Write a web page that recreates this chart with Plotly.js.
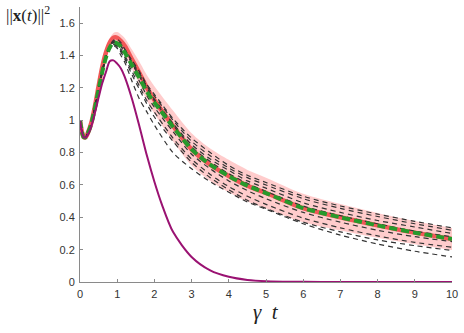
<!DOCTYPE html>
<html>
<head>
<meta charset="utf-8">
<script src="https://cdn.plot.ly/plotly-3.0.1.min.js"></script>
<style>
  html, body { margin: 0; padding: 0; background: #fff; }
  #chart { width: 464px; height: 333px; }
</style>
</head>
<body>
<div id="chart"></div>
<script>
// time grid (gamma t)
const T = [0, 0.05, 0.1, 0.15, 0.2, 0.3, 0.4, 0.5, 0.6, 0.7, 0.8, 0.9, 1.0, 1.1,
           1.2, 1.4, 1.6, 1.8, 2.0, 2.5, 3.0, 3.5, 4.0, 4.5, 5.0, 6.0, 7.0, 8.0, 9.0, 10];

// ensemble mean (red) and its spread (pink band)
const meanRed = [1.0, 0.93, 0.895, 0.895, 0.915, 0.98, 1.085, 1.21, 1.33, 1.42, 1.48, 1.51, 1.51, 1.49,
                 1.46, 1.375, 1.29, 1.20, 1.125, 0.965, 0.82, 0.725, 0.655, 0.595, 0.55, 0.457, 0.40, 0.35, 0.305, 0.266];
const spread  = [0, 0.005, 0.008, 0.01, 0.01, 0.012, 0.015, 0.018, 0.02, 0.025, 0.028, 0.03, 0.035, 0.04,
                 0.048, 0.06, 0.07, 0.078, 0.085, 0.095, 0.1, 0.1, 0.1, 0.098, 0.095, 0.088, 0.082, 0.077, 0.072, 0.068];

// reduced model (green dashed)
const green = [1.0, 0.93, 0.895, 0.895, 0.915, 0.975, 1.075, 1.19, 1.30, 1.39, 1.45, 1.48, 1.475, 1.455,
               1.42, 1.34, 1.26, 1.175, 1.11, 0.96, 0.82, 0.725, 0.655, 0.595, 0.55, 0.457, 0.40, 0.35, 0.305, 0.266];

// individual realisations (black dashed)
const runs = [
  [1.0, 0.93, 0.895, 0.895, 0.915, 0.975, 1.08, 1.20, 1.31, 1.40, 1.46, 1.495, 1.50, 1.48,
   1.44, 1.37, 1.30, 1.22, 1.16, 1.01, 0.89, 0.80, 0.72, 0.66, 0.615, 0.53, 0.47, 0.42, 0.375, 0.335],
  [1.0, 0.93, 0.895, 0.895, 0.915, 0.975, 1.08, 1.20, 1.31, 1.40, 1.46, 1.49, 1.49, 1.47,
   1.44, 1.36, 1.29, 1.21, 1.15, 1.00, 0.87, 0.78, 0.705, 0.645, 0.60, 0.515, 0.455, 0.405, 0.36, 0.32],
  [1.0, 0.93, 0.895, 0.895, 0.915, 0.975, 1.075, 1.19, 1.30, 1.39, 1.45, 1.485, 1.48, 1.46,
   1.43, 1.35, 1.28, 1.20, 1.13, 0.98, 0.85, 0.76, 0.69, 0.625, 0.58, 0.49, 0.43, 0.38, 0.34, 0.30],
  [1.0, 0.93, 0.895, 0.895, 0.915, 0.975, 1.075, 1.19, 1.30, 1.39, 1.45, 1.48, 1.475, 1.455,
   1.42, 1.345, 1.27, 1.19, 1.12, 0.97, 0.835, 0.745, 0.67, 0.61, 0.56, 0.47, 0.41, 0.36, 0.315, 0.28],
  [1.0, 0.93, 0.895, 0.895, 0.915, 0.975, 1.075, 1.19, 1.30, 1.39, 1.445, 1.47, 1.465, 1.44,
   1.40, 1.32, 1.24, 1.15, 1.08, 0.93, 0.79, 0.70, 0.625, 0.565, 0.515, 0.43, 0.37, 0.32, 0.28, 0.25],
  [1.0, 0.93, 0.895, 0.895, 0.915, 0.975, 1.075, 1.19, 1.30, 1.39, 1.445, 1.47, 1.46, 1.43,
   1.39, 1.30, 1.21, 1.12, 1.05, 0.89, 0.76, 0.665, 0.59, 0.53, 0.48, 0.395, 0.335, 0.285, 0.245, 0.215],
  [1.0, 0.93, 0.895, 0.895, 0.915, 0.975, 1.075, 1.19, 1.30, 1.39, 1.44, 1.465, 1.455, 1.42,
   1.38, 1.28, 1.19, 1.10, 1.02, 0.87, 0.74, 0.645, 0.57, 0.505, 0.455, 0.37, 0.31, 0.26, 0.225, 0.195],
  [1.0, 0.93, 0.895, 0.895, 0.915, 0.975, 1.075, 1.19, 1.30, 1.385, 1.44, 1.46, 1.445, 1.40,
   1.36, 1.24, 1.13, 1.05, 0.97, 0.80, 0.70, 0.62, 0.555, 0.495, 0.45, 0.36, 0.29, 0.235, 0.19, 0.155],
];

// linearised model (purple)
const tPurple = [0, 0.05, 0.1, 0.15, 0.2, 0.3, 0.4, 0.5, 0.6, 0.7, 0.8, 0.9, 1.0, 1.1, 1.2, 1.4, 1.6,
                 1.8, 2.0, 2.2, 2.5, 3.0, 3.5, 4.0, 4.5, 5.0, 6.0, 7.0, 8.0, 9.0, 10];
const purple  = [1.0, 0.93, 0.895, 0.893, 0.905, 0.96, 1.045, 1.14, 1.23, 1.30, 1.365, 1.37, 1.35, 1.32,
                 1.27, 1.13, 0.96, 0.78, 0.62, 0.48, 0.31, 0.155, 0.072, 0.032, 0.013, 0.005, 0.001, 0, 0, 0, 0];

const yTicks = [0, 0.2, 0.4, 0.6, 0.8, 1, 1.2, 1.4, 1.6];
const xTicks = [0, 1, 2, 3, 4, 5, 6, 7, 8, 9, 10];

const bandLo = meanRed.map((m, i) => m - spread[i]);
const bandHi = meanRed.map((m, i) => m + spread[i]);

const SPL = { shape: 'spline', smoothing: 0.8 };

const traces = [
  { x: T, y: bandLo, type: 'scatter', mode: 'lines', line: { width: 0, ...SPL }, hoverinfo: 'skip' },
  { x: T, y: bandHi, type: 'scatter', mode: 'lines', line: { width: 0, ...SPL },
    fill: 'tonexty', fillcolor: 'rgba(255,195,195,0.85)', hoverinfo: 'skip' },
  { x: T, y: meanRed, type: 'scatter', mode: 'lines', line: { color: '#f25858', width: 4.5, ...SPL } },
  ...runs.map(r => ({
    x: T, y: r, type: 'scatter', mode: 'lines',
    line: { color: '#333', width: 1.2, dash: '5px,4px', ...SPL },
  })),
  { x: T, y: green, type: 'scatter', mode: 'lines', line: { color: '#279a2c', width: 4, dash: '8px,4px', ...SPL } },
  { x: tPurple, y: purple, type: 'scatter', mode: 'lines', line: { color: '#9a1272', width: 2, ...SPL } },
];

const AX = {
  showgrid: false, zeroline: false, showline: true, linecolor: '#8a8a8a', linewidth: 1,
  ticks: 'inside', ticklen: 3, tickcolor: '#8a8a8a',
  tickfont: { family: 'Liberation Sans, Arial, sans-serif', size: 11, color: '#333' },
};

const layout = {
  width: 464, height: 333,
  margin: { l: 80, r: 12, t: 7, b: 51 },
  paper_bgcolor: '#fff', plot_bgcolor: '#fff',
  showlegend: false,
  xaxis: { ...AX, range: [0, 10], tickvals: xTicks, ticklabelstandoff: 2 },
  yaxis: { ...AX, range: [0, 1.7], tickvals: yTicks, ticklabelstandoff: 2 },
  annotations: [
    {
      xref: 'paper', yref: 'paper', x: -0.205, y: 1.02, xanchor: 'left', yanchor: 'top',
      text: '||<b>x</b>(<i>t</i>)||<sup>2</sup>', showarrow: false,
      font: { family: 'Liberation Serif, DejaVu Serif, serif', size: 17, color: '#222' },
    },
    {
      xref: 'paper', yref: 'paper', x: 0.5, y: -0.11, xanchor: 'center', yanchor: 'middle',
      text: '<i>γ  t</i>', showarrow: false,
      font: { family: 'Liberation Serif, DejaVu Serif, serif', size: 21, color: '#222' },
    },
  ],
};

Plotly.newPlot('chart', traces, layout, { displayModeBar: false, staticPlot: true });
</script>
</body>
</html>
